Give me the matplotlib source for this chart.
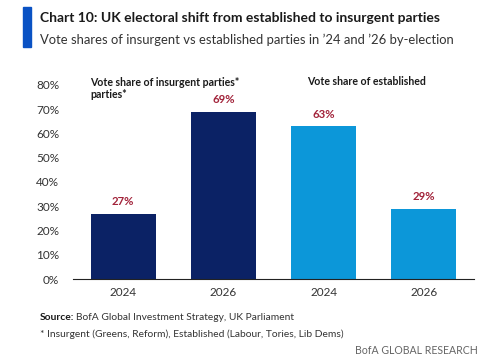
import matplotlib
matplotlib.use("Agg")
import matplotlib.pyplot as plt
from matplotlib.patches import Rectangle

plt.rcParams['font.family'] = ['Lato', 'DejaVu Sans']

years = ['2024', '2026', '2024', '2026']
shares = [27, 69, 63, 29]
value_labels = ['27%', '69%', '63%', '29%']
group_titles = ['Vote share of insurgent parties*', 'parties*', 'Vote share of established']
yticks = [0, 10, 20, 30, 40, 50, 60, 70, 80]

navy = '#0B2265'
light = '#0C97D9'
red = '#A2233A'
colors = [navy, navy, light, light]

fig = plt.figure(figsize=(5, 3.62), dpi=100)
fig.patch.set_facecolor('white')

# header
fig.patches.append(Rectangle((23 / 500, 1 - 47 / 362), 8 / 500, 40 / 362,
                             transform=fig.transFigure, color='#0A52C4'))
fig.text(40 / 500, 1 - 18 / 362, 'Chart 10: UK electoral shift from established to insurgent parties',
         fontsize=10.0, fontweight='bold', color='#1a1a1a', va='center')
fig.text(40 / 500, 1 - 40 / 362, "Vote shares of insurgent vs established parties in \u201924 and \u201926 by-election",
         fontsize=9.35, color='#333333', va='center')

ax = fig.add_axes([73 / 500, 1 - 279 / 362, 401 / 500, 194 / 362])
x = range(len(shares))
ax.bar(x, shares, width=0.65, color=colors)
ax.set_xlim(-0.5, 3.5)
ax.set_ylim(0, 80)
ax.set_yticks(yticks)
ax.set_yticklabels([f'{t}%' for t in yticks])
ax.set_xticks(list(x))
ax.set_xticklabels(years)
for s in ['top', 'right', 'left']:
    ax.spines[s].set_visible(False)
ax.spines['bottom'].set_color('#222222')
ax.tick_params(axis='both', length=0, labelsize=8.5, colors='#333333')
ax.tick_params(axis='y', pad=10)
ax.tick_params(axis='x', pad=6)

for i, (v, lab) in enumerate(zip(shares, value_labels)):
    ax.text(i, v + 5, lab, ha='center', va='center', fontsize=8.2,
            fontweight='bold', color=red)

ax.text(-0.33, 81.2, group_titles[0], ha='left', va='center', fontsize=7.6,
        fontweight='bold', color='#1a1a1a', clip_on=False)
ax.text(-0.33, 76.0, group_titles[1], ha='left', va='center', fontsize=7.6,
        fontweight='bold', color='#1a1a1a')
ax.text(2.43, 81.6, group_titles[2], ha='center', va='center', fontsize=7.6,
        fontweight='bold', color='#1a1a1a', clip_on=False)

# footer
fig.text(40 / 500, 1 - 318 / 362, 'Source:', fontsize=7.4, fontweight='bold',
         color='#1a1a1a', va='center')
fig.text(76 / 500, 1 - 318 / 362, 'BofA Global Investment Strategy, UK Parliament',
         fontsize=7.4, color='#333333', va='center')
fig.text(40 / 500, 1 - 334 / 362, '* Insurgent (Greens, Reform), Established (Labour, Tories, Lib Dems)',
         fontsize=7.4, color='#333333', va='center')
fig.text(478 / 500, 1 - 350 / 362, 'BofA GLOBAL RESEARCH', fontsize=7.6,
         color='#666666', ha='right', va='center')

fig.savefig('out.png', dpi=100)
